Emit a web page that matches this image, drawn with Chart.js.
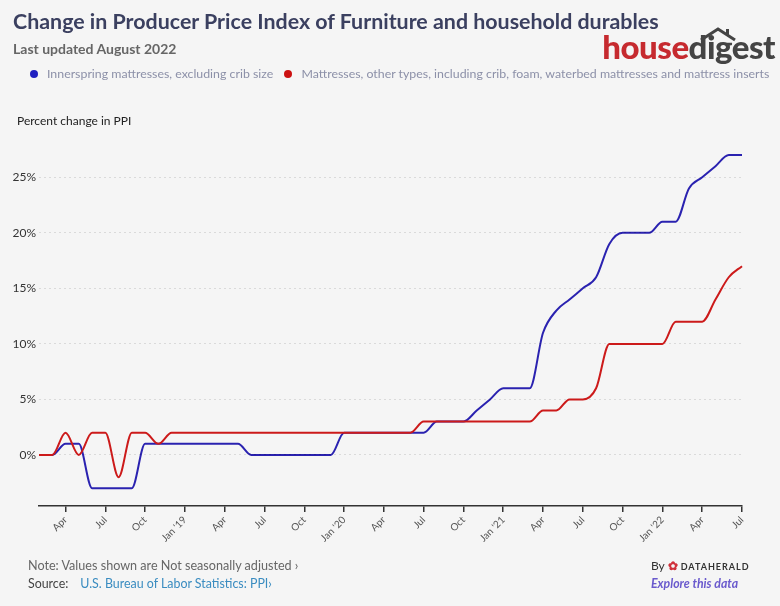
<!DOCTYPE html>
<html>
<head>
<meta charset="utf-8">
<script src="https://cdn.jsdelivr.net/npm/chart.js@4.4.0/dist/chart.umd.min.js"></script>
<style>
  body { margin: 0; background: #f5f5f5; font-family: Lato, "Open Sans", sans-serif; }
  #wrap { position: relative; width: 780px; height: 606px; overflow: hidden; }
  #chart { position: absolute; left: 0; top: 0; }
  .abs { position: absolute; white-space: nowrap; }
  #title { left: 13px; top: 8px; font-size: 21.4px; font-weight: bold; color: #3b4060; }
  #sub { left: 13px; top: 40px; font-size: 14px; font-weight: bold; color: #666; }
  #legend { left: 30px; top: 66px; font-size: 12.35px; color: #8c90a8; }
  #legend span.dot { display: inline-block; width: 8px; height: 8px; border-radius: 50%; margin: 0 9px 0 0; }
  #ylab { left: 17px; top: 113px; font-size: 12px; color: #222; }
  #logo { right: 5px; top: 26px; font-size: 33px; font-weight: 900; letter-spacing: -0.5px; }
  #logo .h { color: #c62a2f; }
  #logo .d { color: #444; }
  #roof { position: absolute; left: 698px; top: 26px; }
  #note { left: 28px; top: 558px; font-size: 12.6px; color: #666; }
  #src { left: 28px; top: 576px; font-size: 12.4px; color: #444; }
  #src a { color: #3a8cc0; text-decoration: none; margin-left: 12px; }
  #by { left: 651px; top: 558px; font-size: 12px; color: #333; }
  #by b { font-size: 9px; letter-spacing: 1px; color: #333; }
  #explore { left: 651px; top: 576px; font-size: 12.3px; font-style: italic; font-weight: bold; color: #6a5acd; }
</style>
</head>
<body>
<div id="wrap">
  <canvas id="chart" width="780" height="606"></canvas>
  <div class="abs" id="title">Change in Producer Price Index of Furniture and household durables</div>
  <div class="abs" id="sub">Last updated August 2022</div>
  <div class="abs" id="logo"><span class="h">house</span><span class="d">digest</span></div>
  <svg id="roof" width="40" height="16" viewBox="0 0 40 16">
    <polyline points="3,14 20,3 37,14" fill="none" stroke="#444" stroke-width="3"/>
    <rect x="28" y="3" width="3" height="6" fill="#444"/>
  </svg>
  <div class="abs" id="legend"><span class="dot" style="background:#2020c0"></span>Innerspring mattresses, excluding crib size <span class="dot" style="background:#cc1111;margin-left:8px"></span>Mattresses, other types, including crib, foam, waterbed mattresses and mattress inserts</div>
  <div class="abs" id="ylab">Percent change in PPI</div>
  <div class="abs" id="note">Note: Values shown are Not seasonally adjusted &#8250;</div>
  <div class="abs" id="src">Source:<a>U.S. Bureau of Labor Statistics: PPI&#8250;</a></div>
  <div class="abs" id="by">By <span style="color:#d0303a;font-weight:bold">&#10047;</span> <b>DATAHERALD</b></div>
  <div class="abs" id="explore">Explore this data</div>
</div>
<script>
const months = [
  "Feb 2018", "Mar 2018", "Apr 2018", "May 2018", "Jun 2018", "Jul 2018", "Aug 2018", "Sep 2018", "Oct 2018", "Nov 2018", "Dec 2018",
  "Jan 2019", "Feb 2019", "Mar 2019", "Apr 2019", "May 2019", "Jun 2019", "Jul 2019", "Aug 2019", "Sep 2019", "Oct 2019", "Nov 2019", "Dec 2019",
  "Jan 2020", "Feb 2020", "Mar 2020", "Apr 2020", "May 2020", "Jun 2020", "Jul 2020", "Aug 2020", "Sep 2020", "Oct 2020", "Nov 2020", "Dec 2020",
  "Jan 2021", "Feb 2021", "Mar 2021", "Apr 2021", "May 2021", "Jun 2021", "Jul 2021", "Aug 2021", "Sep 2021", "Oct 2021", "Nov 2021", "Dec 2021",
  "Jan 2022", "Feb 2022", "Mar 2022", "Apr 2022", "May 2022", "Jun 2022", "Jul 2022"
];

const innerspring = [
  0, 0, 1, 1, -3, -3, -3, -3, 1, 1, 1,
  1, 1, 1, 1, 1, 0, 0, 0, 0, 0, 0, 0,
  2, 2, 2, 2, 2, 2, 2, 3, 3, 3, 4, 5,
  6, 6, 6, 11, 13, 14, 15, 16, 19, 20, 20, 20,
  21, 21, 24, 25, 26, 27, 27
];

const otherMattresses = [
  0, 0, 2, 0, 2, 2, -2, 2, 2, 1, 2,
  2, 2, 2, 2, 2, 2, 2, 2, 2, 2, 2, 2,
  2, 2, 2, 2, 2, 2, 3, 3, 3, 3, 3, 3,
  3, 3, 3, 4, 4, 5, 5, 6, 10, 10, 10, 10,
  10, 12, 12, 12, 14, 16, 17
];

const yTicks = [0, 5, 10, 15, 20, 25];

function tickLabel(m) {
  const [mon, yr] = m.split(" ");
  if (mon === "Jan") return "Jan '" + yr.slice(2);
  if (mon === "Apr" || mon === "Jul" || mon === "Oct") return mon;
  return "";
}

// blue line multiplied over red so the overlapping stretch goes dark
const blendPlugin = {
  id: "blend",
  beforeDatasetDraw(chart, args) {
    if (args.index === 1) {
      chart.ctx.save();
      chart.ctx.globalCompositeOperation = "multiply";
    }
  },
  afterDatasetDraw(chart, args) {
    if (args.index === 1) chart.ctx.restore();
  }
};

const ctx = document.getElementById("chart").getContext("2d");
new Chart(ctx, {
  type: "line",
  data: {
    labels: months,
    datasets: [
      {
        label: "Mattresses, other types, including crib, foam, waterbed mattresses and mattress inserts",
        data: otherMattresses,
        borderColor: "#cc1a1a",
        borderWidth: 2,
        pointRadius: 0,
        cubicInterpolationMode: "monotone"
      },
      {
        label: "Innerspring mattresses, excluding crib size",
        data: innerspring,
        borderColor: "#2a22b0",
        borderWidth: 2,
        pointRadius: 0,
        cubicInterpolationMode: "monotone"
      }
    ]
  },
  plugins: [blendPlugin],
  options: {
    responsive: false,
    animation: false,
    layout: { padding: { top: 144, left: 0, right: 38, bottom: 0 } },
    plugins: { legend: { display: false }, tooltip: { enabled: false } },
    scales: {
      x: {
        offset: false,
        afterFit: s => { s.height = 100; },
        border: { display: true, color: "#333", width: 1.5 },
        grid: {
          drawOnChartArea: false,
          drawTicks: true,
          tickLength: 6,
          lineWidth: 1.5,
          color: c => tickLabel(months[c.index] || "") ? "#333" : "rgba(0,0,0,0)"
        },
        ticks: {
          autoSkip: false,
          maxRotation: 45,
          minRotation: 45,
          padding: 2,
          color: "#555",
          font: { family: "Lato", size: 10 },
          callback: (v, i) => tickLabel(months[i])
        }
      },
      y: {
        min: -4.6,
        max: 28,
        afterFit: s => { s.width = 39; },
        afterBuildTicks: s => { s.ticks = yTicks.map(v => ({ value: v })); },
        border: { display: false, dash: [2, 3] },
        grid: { color: "#dadada", drawTicks: false, lineWidth: 1 },
        ticks: {
          padding: 3,
          color: "#333",
          font: { family: "Lato", size: 12 },
          callback: v => v + "%"
        }
      }
    }
  }
});
</script>
</body>
</html>
